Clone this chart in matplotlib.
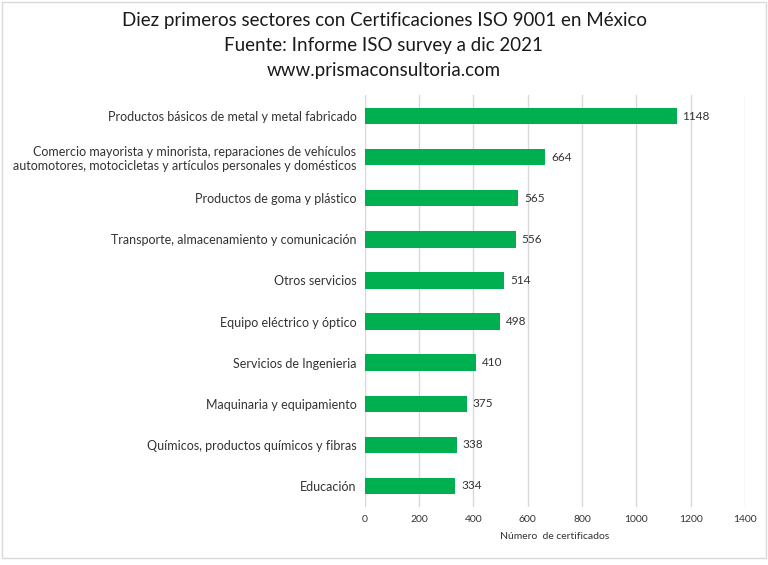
import matplotlib.pyplot as plt
from matplotlib.patches import Rectangle

plt.rcParams['font.family'] = ['Lato', 'DejaVu Sans']

sectors = [
    'Productos básicos de metal y metal fabricado',
    'Comercio mayorista y minorista, reparaciones de vehículos\nautomotores, motocicletas y artículos personales y domésticos',
    'Productos de goma y plástico',
    'Transporte, almacenamiento y comunicación',
    'Otros servicios',
    'Equipo eléctrico y óptico',
    'Servicios de Ingenieria',
    'Maquinaria y equipamiento',
    'Químicos, productos químicos y fibras',
    'Educación',
]
certificados = [1148, 664, 565, 556, 514, 498, 410, 375, 338, 334]
x_ticks = [0, 200, 400, 600, 800, 1000, 1200, 1400]

fig = plt.figure(figsize=(7.68, 5.65), dpi=100)
ax = fig.add_axes([0.475, 0.1035, 0.495, 0.7275])

y = list(range(len(sectors)))
ax.barh(y, certificados, height=0.4, color='#00B050', zorder=3)
for yi, v in zip(y, certificados):
    ax.text(v + 22, yi, str(v), va='center', ha='left', fontsize=8.5, color='#333333')

ax.set_yticks(y)
ax.set_yticklabels(sectors, fontsize=9, color='#333333')
ax.set_ylim(len(sectors) - 0.5, -0.5)
ax.set_xlim(0, 1400)
ax.set_xticks(x_ticks)
ax.set_xticklabels([str(t) for t in x_ticks], fontsize=7.5, color='#333333')
ax.tick_params(length=0, pad=6)
ax.xaxis.grid(True, color='#D9D9D9', linewidth=1, zorder=0)
for s in ax.spines.values():
    s.set_visible(False)
ax.set_xlabel('Número  de certificados', fontsize=7.5, color='#333333', labelpad=6)

fig.text(0.5, 0.963, 'Diez primeros sectores con Certificaciones ISO 9001 en México',
         ha='center', va='center', fontsize=13.5, color='#1a1a1a')
fig.text(0.5, 0.919, 'Fuente: Informe ISO survey a dic 2021',
         ha='center', va='center', fontsize=13.5, color='#1a1a1a')
fig.text(0.5, 0.875, 'www.prismaconsultoria.com',
         ha='center', va='center', fontsize=13.5, color='#1a1a1a')

fig.patches.append(Rectangle((0.002, 0.012), 0.996, 0.985, transform=fig.transFigure,
                             fill=False, edgecolor='#D9D9D9', linewidth=1))

fig.savefig('out.png', dpi=100)
